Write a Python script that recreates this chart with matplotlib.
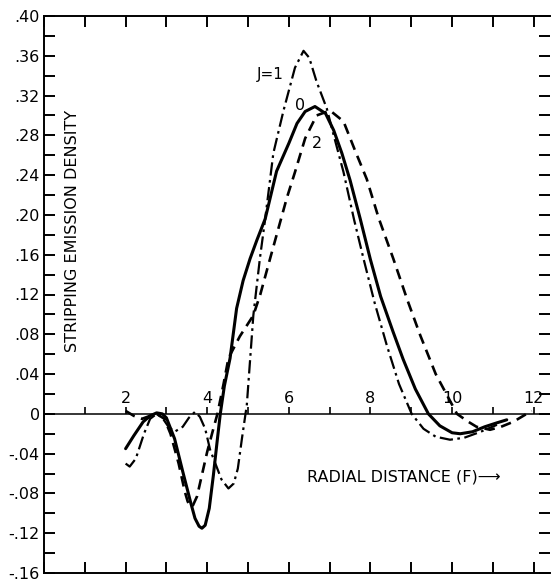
import numpy as np
import matplotlib
matplotlib.use("Agg")
import matplotlib.pyplot as plt
from matplotlib.ticker import MultipleLocator, FixedLocator, FixedFormatter

# J=0 (solid)
x_j0 = [2.0, 2.2, 2.43, 2.6, 2.76, 2.9, 3.0, 3.2, 3.4, 3.6, 3.7, 3.8, 3.87, 3.95, 4.05,
        4.15, 4.25, 4.32, 4.42, 4.56, 4.72, 4.88, 5.05, 5.22, 5.42, 5.7, 6.0, 6.2, 6.4,
        6.64, 6.9, 7.1, 7.3, 7.5, 7.75, 8.0, 8.25, 8.55, 8.8, 9.1, 9.42, 9.7, 10.0, 10.2,
        10.5, 10.8, 11.1, 11.34]
y_j0 = [-0.035, -0.022, -0.008, -0.002, 0.001, 0.0, -0.004, -0.025, -0.058, -0.090, -0.105,
        -0.113, -0.115, -0.112, -0.095, -0.062, -0.025, 0.0, 0.028, 0.056, 0.106, 0.134,
        0.156, 0.175, 0.196, 0.244, 0.272, 0.292, 0.304, 0.309, 0.302, 0.285, 0.262, 0.235,
        0.196, 0.155, 0.118, 0.083, 0.055, 0.025, 0.0, -0.012, -0.019, -0.020, -0.018,
        -0.013, -0.009, -0.006]

# J=1 (dash-dot)
x_j1 = [2.0, 2.1, 2.25, 2.45, 2.6, 2.76, 2.9, 3.05, 3.2, 3.4, 3.55, 3.7, 3.82, 3.95, 4.07,
        4.2, 4.35, 4.52, 4.65, 4.75, 4.85, 4.97, 5.13, 5.29, 5.42, 5.62, 5.87, 6.15, 6.36,
        6.5, 6.68, 6.93, 7.1, 7.34, 7.6, 7.83, 8.1, 8.4, 8.7, 9.01, 9.3, 9.6, 9.95, 10.3,
        10.7, 11.1]
y_j1 = [-0.050, -0.053, -0.045, -0.020, -0.005, 0.0, -0.004, -0.013, -0.018, -0.013, -0.004,
        0.002, -0.003, -0.015, -0.036, -0.050, -0.066, -0.075, -0.070, -0.055, -0.025, 0.009,
        0.099, 0.156, 0.196, 0.262, 0.305, 0.348, 0.365, 0.358, 0.334, 0.307, 0.280, 0.243,
        0.195, 0.156, 0.112, 0.069, 0.030, 0.0, -0.015, -0.023, -0.026, -0.024, -0.018,
        -0.011]

# J=2 (dashed)
x_j2 = [2.0, 2.2, 2.4, 2.6, 2.76, 2.95, 3.1, 3.3, 3.45, 3.52, 3.58, 3.65, 3.75, 3.85, 4.0,
        4.15, 4.25, 4.4, 4.52, 4.8, 5.13, 5.3, 5.54, 5.95, 6.15, 6.4, 6.68, 7.01, 7.34,
        7.62, 7.91, 8.2, 8.56, 8.9, 9.22, 9.6, 10.12, 10.4, 10.6, 10.93, 11.2, 11.5, 11.95]
y_j2 = [0.003, -0.002, -0.005, -0.002, 0.0, -0.005, -0.020, -0.050, -0.078, -0.088, -0.093,
        -0.092, -0.083, -0.065, -0.038, -0.015, 0.0, 0.030, 0.056, 0.078, 0.099, 0.120,
        0.156, 0.217, 0.243, 0.277, 0.300, 0.305, 0.294, 0.265, 0.236, 0.197, 0.156, 0.115,
        0.079, 0.040, 0.0, -0.008, -0.013, -0.016, -0.013, -0.008, 0.003]

x_labels = [2, 4, 6, 8, 10, 12]
y_ticks = [0.40, 0.36, 0.32, 0.28, 0.24, 0.20, 0.16, 0.12, 0.08, 0.04, 0.0,
           -0.04, -0.08, -0.12, -0.16]
y_ticklabels = [".40", ".36", ".32", ".28", ".24", ".20", ".16", ".12", ".08", ".04", "0",
                "-.04", "-.08", "-.12", "-.16"]

fig = plt.figure(figsize=(5.51, 5.80), dpi=100)
ax = fig.add_axes([44 / 551, 7 / 580, (550 - 44) / 551, (573 - 16) / 580])

ax.plot(x_j0, y_j0, color="k", lw=2.2, solid_joinstyle="round", solid_capstyle="round")
ax.plot(x_j1, y_j1, color="k", lw=1.6, linestyle=(0, (6, 2, 1.2, 2)))
ax.plot(x_j2, y_j2, color="k", lw=1.9, linestyle=(0, (4, 2.5)))

ax.set_xlim(0, 12.4)
ax.set_ylim(-0.16, 0.40)

# zero line with its own ticks and labels
ax.axhline(0, color="k", lw=1.1)
ax.vlines(range(1, 13), 0, 0.007, color="k", lw=1.2)
for v in x_labels:
    ax.text(v, 0.008, str(v), ha="center", va="bottom", fontsize=11.5)

ax.xaxis.set_major_locator(MultipleLocator(1))
ax.tick_params(axis="x", direction="in", length=8, width=1.4, top=True, bottom=True,
               labelbottom=False, labeltop=False)
ax.yaxis.set_major_locator(FixedLocator(y_ticks))
ax.yaxis.set_major_formatter(FixedFormatter(y_ticklabels))
ax.yaxis.set_minor_locator(MultipleLocator(0.02))
ax.tick_params(axis="y", which="both", direction="in", length=8, width=1.4,
               left=True, right=True, labelsize=11.5, pad=3)
ax.spines["right"].set_visible(False)
for s in ["left", "top", "bottom"]:
    ax.spines[s].set_linewidth(1.4)

ax.text(0.71, 0.184, "STRIPPING EMISSION DENSITY", rotation=90, ha="center", va="center",
        fontsize=11.5)
ax.text(6.45, -0.063, "RADIAL DISTANCE (F)\u27f6", ha="left", va="center", fontsize=11.5)

ax.text(5.54, 0.341, "J=1", ha="center", va="center", fontsize=11)
ax.text(6.27, 0.31, "0", ha="center", va="center", fontsize=11.5)
ax.text(6.69, 0.272, "2", ha="center", va="center", fontsize=11.5)

fig.savefig("out.png", dpi=100)
